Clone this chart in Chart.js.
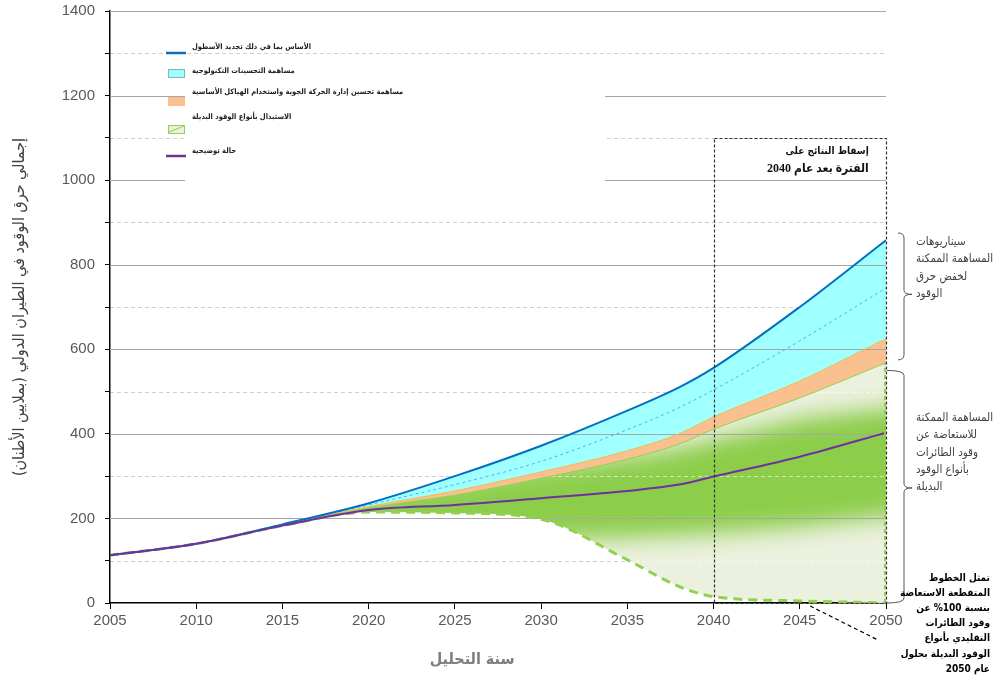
<!DOCTYPE html>
<html>
<head>
<meta charset="utf-8">
<script src="https://cdn.jsdelivr.net/npm/chart.js@4.4.1/dist/chart.umd.min.js"></script>
<style>
  html, body { margin: 0; padding: 0; background: #fff; }
  #wrap { width: 995px; height: 677px; }
</style>
</head>
<body>
<div id="wrap"><canvas id="fuel-chart"></canvas></div>
<script>
// values (million tonnes)
const years        = [2005, 2010, 2015, 2020, 2025, 2030, 2035, 2038, 2040, 2045, 2050]
const baseline     = [113, 140, 186, 236, 300, 372, 455, 510, 556, 700, 858]
const techLine     = [113, 140, 185, 232, 280, 335, 410, 462, 504, 620, 745]
const atmTop       = [113, 140, 185, 228, 265, 310, 360, 400, 440, 525, 625]
const altFuelTop   = [113, 140, 184, 225, 255, 295, 340, 376, 411, 485, 568]
const fullAltFuel  = [113, 140, 183, 215, 213, 198, 102, 39, 15, 5, 0]
const illustrative = [113, 140, 183, 220, 232, 248, 265, 280, 299, 346, 403]
// soft green band inside the alternative fuel area
const bandUpper    = [140, 170, 215, 260, 290, 320, 345, 365, 385, 435, 460]
const bandLower    = [60, 80, 120, 150, 140, 150, 155, 160, 165, 180, 205]

const xTicks = [2005, 2010, 2015, 2020, 2025, 2030, 2035, 2040, 2045, 2050]

const legendItems = [
    { text: 'الأساس بما في ذلك تجديد الأسطول', kind: 'line', color: '#0070c0' },
    { text: 'مساهمة التحسينات التكنولوجية', kind: 'box', color: '#a0ffff', stroke: '#7fb8b8' },
    { text: 'مساهمة تحسين إدارة الحركة الجوية واستخدام الهياكل الأساسية', kind: 'box', color: '#fac090', stroke: '#fac090' },
    { text: 'الاستبدال بأنواع الوقود البديلة', kind: 'hatch', color: '#ebf1de', stroke: '#92d050' },
    { text: 'حالة توضيحية', kind: 'line', color: '#7030a0' }
]
const boxLabel = ['إسقاط النتائج على', 'الفترة بعد عام 2040']
const note1 = ['سيناريوهات', 'المساهمة الممكنة', 'لخفض حرق', 'الوقود']
const note2 = ['المساهمة الممكنة', 'للاستعاضة عن', 'وقود الطائرات', 'بأنواع الوقود', 'البديلة']
const note3 = ['تمثل الخطوط', 'المتقطعة الاستعاضة', 'بنسبة 100% عن', 'وقود الطائرات', 'التقليدي بأنواع', 'الوقود البديلة بحلول', 'عام 2050']

const pts = arr => years.map((x, i) => ({ x, y: arr[i] }))
const AR = '"DejaVu Sans Condensed", "DejaVu Sans", sans-serif'

function brace(ctx, x, top, bottom, mid, hookLeft) {
    ctx.beginPath()
    ctx.moveTo(x - hookLeft, top)
    ctx.quadraticCurveTo(x, top, x, top + 5)
    ctx.lineTo(x, mid - 4)
    ctx.quadraticCurveTo(x, mid, x + 8, mid)
    ctx.quadraticCurveTo(x, mid, x, mid + 4)
    ctx.lineTo(x, bottom - 5)
    ctx.quadraticCurveTo(x, bottom, x - hookLeft, bottom)
    ctx.stroke()
}

const decor = {
    id: 'decor',
    beforeDraw(chart) {
        // light dashed grid lines at the odd hundreds
        const { ctx, chartArea: a, scales: { y } } = chart
        ctx.save()
        ctx.strokeStyle = '#cfcfcf'
        ctx.lineWidth = 1
        ctx.setLineDash([4, 3])
        for (let v = 100; v < 1400; v += 200) {
            const py = Math.round(y.getPixelForValue(v)) + 0.5
            ctx.beginPath(); ctx.moveTo(a.left, py); ctx.lineTo(a.right, py); ctx.stroke()
        }
        ctx.restore()
    },
    beforeDatasetsDraw(chart) {
        const { ctx, chartArea: a, scales: { x, y } } = chart
        const topLine = chart.getDatasetMeta(3).dataset
        const lowLine = chart.getDatasetMeta(4).dataset
        topLine.updateControlPoints(a, 'x')
        lowLine.updateControlPoints(a, 'x')

        ctx.save()
        ctx.beginPath(); topLine.path(ctx)
        ctx.lineTo(a.right, a.bottom + 5); ctx.lineTo(a.left, a.bottom + 5); ctx.closePath(); ctx.clip()
        ctx.beginPath(); lowLine.path(ctx)
        ctx.lineTo(a.right, a.top); ctx.lineTo(a.left, a.top); ctx.closePath(); ctx.clip()

        ctx.filter = 'blur(11px)'
        ctx.fillStyle = '#8ccd4a'
        ctx.beginPath()
        years.forEach((yr, i) => {
            const px = x.getPixelForValue(yr), py = y.getPixelForValue(bandUpper[i])
            i ? ctx.lineTo(px, py) : ctx.moveTo(px - 40, py)
        })
        ctx.lineTo(x.getPixelForValue(2050) + 40, y.getPixelForValue(bandUpper[years.length - 1]))
        ctx.lineTo(x.getPixelForValue(2050) + 40, y.getPixelForValue(bandLower[years.length - 1]))
        for (let i = years.length - 1; i >= 0; i--) {
            ctx.lineTo(x.getPixelForValue(years[i]), y.getPixelForValue(bandLower[i]))
        }
        ctx.lineTo(x.getPixelForValue(2005) - 40, y.getPixelForValue(bandLower[0]))
        ctx.closePath()
        ctx.fill()
        ctx.filter = 'none'

        // faint minor lines seen through the green area
        ctx.strokeStyle = 'rgba(255,255,255,0.55)'
        ctx.setLineDash([4, 3])
        for (let v = 100; v < 700; v += 200) {
            const py = Math.round(y.getPixelForValue(v)) + 0.5
            ctx.beginPath(); ctx.moveTo(a.left, py); ctx.lineTo(a.right, py); ctx.stroke()
        }
        ctx.restore()

        // main grid lines over the fills
        ctx.save()
        ctx.strokeStyle = '#a6a6a6'
        ctx.lineWidth = 1
        for (let v = 200; v <= 1400; v += 200) {
            const py = Math.round(y.getPixelForValue(v)) + 0.5
            ctx.beginPath(); ctx.moveTo(a.left, py); ctx.lineTo(a.right, py); ctx.stroke()
        }
        ctx.restore()
    },
    afterDatasetsDraw(chart) {
        const { ctx, scales: { x, y } } = chart
        // green dashed edge at 2050
        ctx.save()
        ctx.strokeStyle = '#92d050'
        ctx.lineWidth = 2
        ctx.setLineDash([4, 3])
        const px = x.getPixelForValue(2050) - 1
        ctx.beginPath(); ctx.moveTo(px, y.getPixelForValue(0)); ctx.lineTo(px, y.getPixelForValue(altFuelTop[years.length - 1])); ctx.stroke()
        ctx.restore()
    },
    afterDraw(chart) {
        const { ctx, chartArea: a, scales: { x, y } } = chart
        ctx.save()

        // legend
        ctx.fillStyle = '#fff'
        ctx.fillRect(a.left + 75, 58, 420, 128)
        const textY = [47, 71, 92, 117, 151]
        const swatchY = [53, 73, 101, 129, 156]
        legendItems.forEach((it, i) => {
            const cy = swatchY[i], sx = a.left + 56
            if (it.kind === 'line') {
                ctx.strokeStyle = it.color; ctx.lineWidth = 2.5; ctx.setLineDash([])
                ctx.beginPath(); ctx.moveTo(sx, cy); ctx.lineTo(sx + 20, cy); ctx.stroke()
            } else {
                ctx.fillStyle = it.color
                ctx.fillRect(sx + 2, cy - 4, 17, 9)
                ctx.strokeStyle = it.stroke; ctx.lineWidth = 1
                ctx.strokeRect(sx + 2.5, cy - 3.5, 16, 8)
                if (it.kind === 'hatch') {
                    ctx.beginPath(); ctx.moveTo(sx + 3, cy + 3); ctx.lineTo(sx + 18, cy - 3); ctx.stroke()
                }
            }
            ctx.fillStyle = '#222'
            ctx.font = 'bold 7.5px ' + AR
            ctx.direction = 'rtl'
            ctx.textAlign = 'left'
            ctx.textBaseline = 'middle'
            ctx.fillText(it.text, a.left + 82, textY[i])
        })

        // dashed projection box
        const bx0 = x.getPixelForValue(2040), bx1 = x.getPixelForValue(2050)
        const by0 = y.getPixelForValue(1100), by1 = y.getPixelForValue(0)
        ctx.strokeStyle = '#333'; ctx.lineWidth = 1.2; ctx.setLineDash([3, 2])
        ctx.strokeRect(Math.round(bx0) + 0.5, Math.round(by0) + 0.5, Math.round(bx1 - bx0), Math.round(by1 - by0))
        ctx.fillStyle = '#111'
        ctx.font = 'bold 10px ' + AR
        ctx.direction = 'rtl'; ctx.textAlign = 'right'; ctx.textBaseline = 'middle'
        ctx.fillText(boxLabel[0], x.getPixelForValue(2049), by0 + 14)
        ctx.font = 'bold 12px "Liberation Serif", "DejaVu Sans Condensed", serif'
        ctx.fillText(boxLabel[1], x.getPixelForValue(2049), by0 + 31)

        // braces and notes on the right
        ctx.setLineDash([])
        ctx.strokeStyle = '#555'; ctx.lineWidth = 1
        brace(ctx, a.right + 18, y.getPixelForValue(875), y.getPixelForValue(575), y.getPixelForValue(730), 6)
        brace(ctx, a.right + 18, y.getPixelForValue(550), y.getPixelForValue(0), y.getPixelForValue(272), 17)

        ctx.fillStyle = '#404040'
        ctx.font = '11.5px ' + AR
        ctx.direction = 'rtl'; ctx.textAlign = 'left'; ctx.textBaseline = 'middle'
        note1.forEach((t, i) => ctx.fillText(t, a.right + 30, 242 + i * 17.3))
        note2.forEach((t, i) => ctx.fillText(t, a.right + 30, 418 + i * 17.3))

        ctx.fillStyle = '#000'
        ctx.font = 'bold 10px ' + AR
        ctx.textAlign = 'right'
        note3.forEach((t, i) => ctx.fillText(t, 990, 578 + i * 15.2))

        // pointer from the dashed line to the note
        ctx.strokeStyle = '#000'; ctx.lineWidth = 1.2; ctx.setLineDash([4, 3])
        ctx.beginPath(); ctx.moveTo(x.getPixelForValue(2045.6), a.bottom + 3); ctx.lineTo(a.right - 8, a.bottom + 37); ctx.stroke()

        // x axis title
        ctx.setLineDash([])
        ctx.fillStyle = '#7f7f7f'
        ctx.font = 'bold 16px ' + AR
        ctx.textAlign = 'center'
        ctx.fillText('سنة التحليل', x.getPixelForValue(2026), 660)
        ctx.restore()
    }
}

const line = (data, color, width, extra) => Object.assign({
    data: pts(data), borderColor: color, borderWidth: width, pointRadius: 0,
    cubicInterpolationMode: 'monotone', fill: false
}, extra)

new Chart(document.getElementById('fuel-chart'), {
    type: 'line',
    data: {
        datasets: [
            line(illustrative, '#7030a0', 2),
            line(baseline, '#0070c0', 2, { fill: { target: 2 }, backgroundColor: '#a0ffff' }),
            line(atmTop, '#f4b942', 1, { fill: { target: 3 }, backgroundColor: '#fac090' }),
            line(altFuelTop, '#92d050', 1, { fill: { target: 4 }, backgroundColor: '#ebf1de' }),
            line(fullAltFuel, '#92d050', 3, { borderDash: [9, 6] }),
            line(techLine, '#4fb3f0', 1, { borderDash: [3, 3] })
        ]
    },
    options: {
        responsive: true,
        maintainAspectRatio: false,
        animation: false,
        layout: { padding: { top: 11, right: 109, left: 0, bottom: 0 } },
        plugins: {
            legend: { display: false },
            tooltip: { enabled: false },
            filler: { drawTime: 'beforeDatasetsDraw' }
        },
        scales: {
            x: {
                type: 'linear', min: 2005, max: 2050,
                afterBuildTicks: s => { s.ticks = xTicks.map(v => ({ value: v })) },
                afterFit: s => { s.height = 74 },
                ticks: { color: '#595959', font: { family: 'Arial', size: 15 }, padding: 3, callback: v => String(v) },
                grid: { drawOnChartArea: false, tickLength: 6, tickColor: '#000' },
                border: { color: '#000', width: 1.5 }
            },
            y: {
                min: 0, max: 1400,
                afterFit: s => { s.width = 110; s.paddingTop = 0; s.paddingBottom = 0 },
                ticks: { stepSize: 100, autoSkip: false, color: '#595959', font: { family: 'Arial', size: 15 }, padding: 10,
                    callback: v => (v % 200 === 0 ? String(v) : '') },
                grid: { drawOnChartArea: false, tickLength: 5, tickColor: '#000' },
                border: { color: '#000', width: 1.5 },
                title: {
                    display: true,
                    text: 'إجمالي حرق الوقود في الطيران الدولي (بملايين الأطنان)',
                    color: '#404040',
                    font: { family: AR, size: 16 },
                    padding: { top: 10, bottom: 0 }
                }
            }
        }
    },
    plugins: [decor]
})
</script>
</body>
</html>
